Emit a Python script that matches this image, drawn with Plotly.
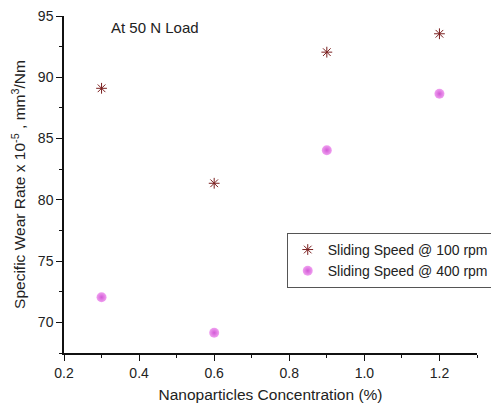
import plotly.graph_objects as go

# Nanoparticle concentration (%) and specific wear rate (x10^-5 mm^3/Nm)
concentration = [0.3, 0.6, 0.9, 1.2]
wear_100rpm = [89.1, 81.35, 92.05, 93.55]
wear_400rpm = [72.05, 69.15, 84.05, 88.65]

series_names = ["Sliding Speed @ 100 rpm", "Sliding Speed @ 400 rpm"]

fig = go.Figure()
fig.add_trace(go.Scatter(
    x=concentration, y=wear_100rpm, mode="markers", name=series_names[0],
    marker=dict(symbol="asterisk-open", size=9, color="#7a1f1f",
                line=dict(color="#7a1f1f", width=1)),
))
fig.add_trace(go.Scatter(
    x=concentration, y=wear_400rpm, mode="markers", name=series_names[1],
    marker=dict(symbol="circle", size=10,
                color="#f0a0f0",
                gradient=dict(type="radial", color="#d25ad6"),
                line=dict(width=0)),
))

font_family = "Liberation Sans, Arial, sans-serif"

fig.update_layout(
    width=491, height=403,
    margin=dict(l=64, r=14, t=16, b=50, autoexpand=False),
    paper_bgcolor="white", plot_bgcolor="white",
    font=dict(family=font_family, size=14, color="#222"),
    showlegend=True,
    legend=dict(xref="container", yref="container",
                x=0.584, y=0.422, xanchor="left", yanchor="top",
                bordercolor="#555", borderwidth=1, bgcolor="white",
                font=dict(size=14, color="#222"), tracegroupgap=0,
                itemsizing="trace"),
    annotations=[dict(text="At 50 N Load", xref="paper", yref="paper",
                      x=0.11, y=0.965, xanchor="left", yanchor="middle",
                      showarrow=False, font=dict(size=15, color="#222"))],
)

fig.update_xaxes(
    range=[0.2, 1.3], tickvals=[0.2, 0.4, 0.6, 0.8, 1.0, 1.2],
    ticktext=["0.2", "0.4", "0.6", "0.8", "1.0", "1.2"],
    showline=True, linecolor="#111", linewidth=1.5, mirror=False,
    ticks="outside", ticklen=6, tickwidth=1.2, tickcolor="#111",
    minor=dict(ticks="outside", ticklen=3, tickcolor="#111", dtick=0.1, tick0=0.2),
    showgrid=False, zeroline=False, automargin=False,
    tickfont=dict(size=14),
    title=dict(text="Nanoparticles Concentration (%)", font=dict(size=15.5), standoff=12),
)
fig.update_yaxes(
    range=[67.5, 95], tickvals=[70, 75, 80, 85, 90, 95],
    showline=True, linecolor="#111", linewidth=1.5, mirror=False,
    ticks="outside", ticklen=6, tickwidth=1.2, tickcolor="#111",
    minor=dict(ticks="outside", ticklen=3, tickcolor="#111", dtick=2.5, tick0=70),
    showgrid=False, zeroline=False, automargin=False,
    tickfont=dict(size=14),
    title=dict(text="Specific Wear Rate x 10<sup>-5</sup> , mm<sup>3</sup>/Nm",
               font=dict(size=15.5), standoff=8),
)

fig.write_html("out.html")
